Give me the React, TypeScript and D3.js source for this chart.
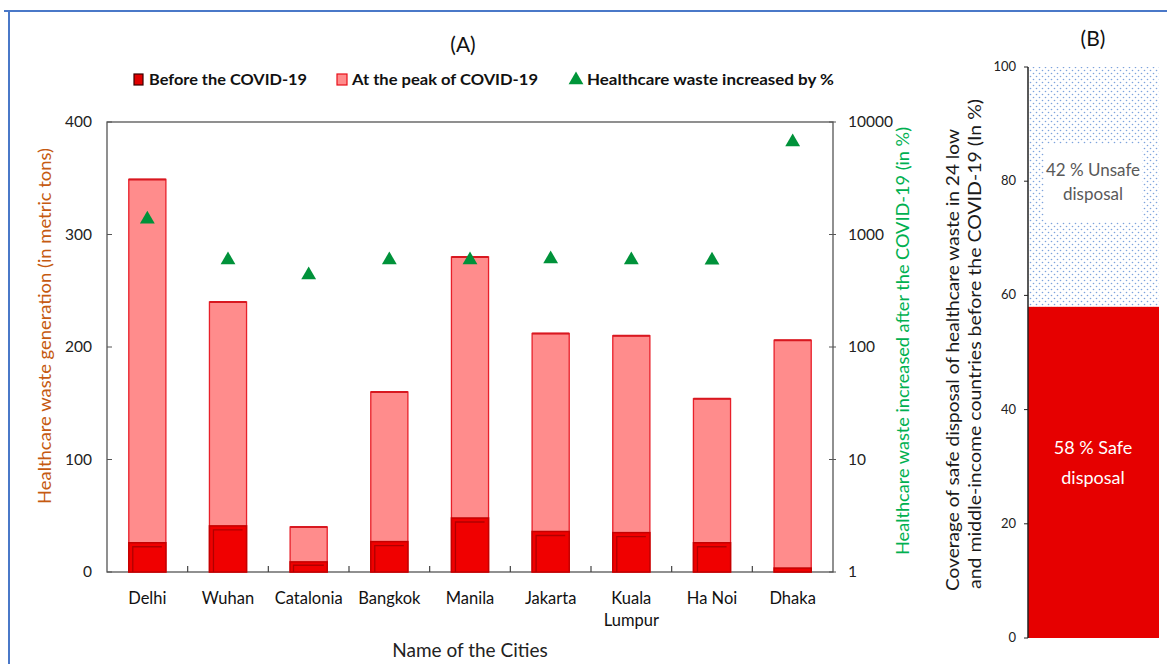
import React from "react";
import * as d3 from "d3";

const cities = ["Delhi", "Wuhan", "Catalonia", "Bangkok", "Manila", "Jakarta", "Kuala Lumpur", "Ha Noi", "Dhaka"];
const beforeCovid = [26, 41, 9, 27, 48, 36, 35, 26, 3.5];
const peakCovid = [349, 240, 40, 160, 280, 212, 210, 154, 206];
const increasePct = [1365, 593, 437, 593, 593, 605, 593, 590, 6640];
const leftTicks = [0, 100, 200, 300, 400];
const rightTicks = [1, 10, 100, 1000, 10000];
const bTicks = [0, 20, 40, 60, 80, 100];
const safeShare = [58];
const unsafeShare = [42];

const FONT = "Lato, 'Open Sans', sans-serif";

export default function App() {
  const W = 1167, H = 664;
  const L = 107, R = 833, T = 122, B = 572;
  const x = d3.scaleBand<string>().domain(cities).range([L, R]).paddingInner(0.54).paddingOuter(0.27);
  const y = d3.scaleLinear().domain([0, 400]).range([B, T]);
  const yLog = d3.scaleLog().domain([1, 10000]).range([B, T]);
  const step = x.step();

  const bL = 1028, bR = 1159, bT = 67, bB = 638;
  const yB = d3.scaleLinear().domain([0, 100]).range([bB, bT]);

  const tri = d3.symbol().type(d3.symbolTriangle).size(95)() as string;

  return (
    <svg width={W} height={H} style={{ position: "absolute", left: 0, top: 0, background: "#fff" }} fontFamily={FONT}>
      <defs>
        <pattern id="dots" width="6" height="6" patternUnits="userSpaceOnUse">
          <circle cx="1.5" cy="1.5" r="0.8" fill="#7ea3dc" />
          <circle cx="4.5" cy="4.5" r="0.8" fill="#7ea3dc" />
        </pattern>
      </defs>
      {/* outer frame */}
      <line x1={9} x2={9} y1={11} y2={H} stroke="#4a78c8" strokeWidth={2} />
      <line x1={4} x2={W} y1={11} y2={11} stroke="#4a78c8" strokeWidth={2} />

      {/* Panel A */}
      <text x={463} y={52} fontSize={21} textAnchor="middle" fill="#111">(A)</text>

      {/* legend */}
      <g fontSize={15} fontWeight={700} fill="#111">
        <rect x={134} y={74} width={9} height={11} fill="#e00000" stroke="#3a0000" strokeWidth={1.2} />
        <text x={149} y={85} textLength={158} lengthAdjust="spacingAndGlyphs">Before the COVID-19</text>
        <rect x={337} y={74} width={10} height={11} fill="#ff8c8c" stroke="#e8101a" strokeWidth={1.2} />
        <text x={352} y={85} textLength={186} lengthAdjust="spacingAndGlyphs">At the peak of COVID-19</text>
        <path d={tri} transform="translate(576,80)" fill="#00963a" />
        <text x={587} y={85} textLength={247} lengthAdjust="spacingAndGlyphs">Healthcare waste increased by %</text>
      </g>

      {/* plot frame */}
      <rect x={L} y={T} width={R - L} height={B - T} fill="none" stroke="#555" strokeWidth={1.3} />

      {/* left ticks */}
      {leftTicks.map((t) => (
        <g key={"l" + t}>
          <line x1={L} x2={L + 5} y1={y(t)} y2={y(t)} stroke="#555" />
          <text x={92} y={y(t) + 5} fontSize={15.5} textAnchor="end" fill="#222">{t}</text>
        </g>
      ))}
      {/* right ticks */}
      {rightTicks.map((t) => (
        <g key={"r" + t}>
          <line x1={R - 4} x2={R + 3} y1={yLog(t)} y2={yLog(t)} stroke="#555" />
          <text x={848} y={yLog(t) + 5} fontSize={15.5} textAnchor="start" fill="#222">{t}</text>
        </g>
      ))}
      {/* x ticks between categories */}
      {cities.slice(0, -1).map((c) => (
        <line key={"xt" + c} x1={(x(c) as number) + x.bandwidth() + (step - x.bandwidth()) / 2}
          x2={(x(c) as number) + x.bandwidth() + (step - x.bandwidth()) / 2}
          y1={B} y2={B - 6} stroke="#444" strokeWidth={1.2} />
      ))}

      {/* bars */}
      {cities.map((c, i) => {
        const bx = x(c) as number;
        const bw = x.bandwidth();
        const yp = y(peakCovid[i]);
        const yb = y(beforeCovid[i]);
        const hb = B - yb;
        const inset = Math.min(4, hb / 3);
        return (
          <g key={"bar" + c}>
            <rect x={bx} y={yp} width={bw} height={B - yp} fill="#ff8c8c" stroke="#e8202a" strokeWidth={1.3} />
            <line x1={bx} x2={bx + bw} y1={yp} y2={yp} stroke="#d81820" strokeWidth={2} />
            <rect x={bx} y={yb} width={bw} height={hb} fill="#f00000" stroke="#c40000" strokeWidth={1.5} />
            {hb > 6 && (
              <path d={`M${bx + inset},${B} V${yb + inset} H${bx + bw - inset}`} fill="none" stroke="#b00000" strokeWidth={1.3} />
            )}
          </g>
        );
      })}

      {/* triangles */}
      {cities.map((c, i) => (
        <path key={"tri" + c} d={tri}
          transform={`translate(${(x(c) as number) + x.bandwidth() / 2},${yLog(increasePct[i])})`}
          fill="#00923a" />
      ))}

      {/* x labels */}
      {cities.map((c) => {
        const cx = (x(c) as number) + x.bandwidth() / 2;
        const parts = c === "Kuala Lumpur" ? ["Kuala", "Lumpur"] : [c];
        return (
          <text key={"xl" + c} x={cx} y={604} fontSize={16.5} textAnchor="middle" fill="#111">
            {parts.map((p, k) => (
              <tspan key={k} x={cx} dy={k === 0 ? 0 : 22}>{p}</tspan>
            ))}
          </text>
        );
      })}
      <text x={470} y={657} fontSize={19} textAnchor="middle" fill="#222">Name of the Cities</text>

      {/* axis titles */}
      <text transform={`translate(51,326) rotate(-90)`} fontSize={17} textAnchor="middle" fill="#c55a11"
        textLength={356} lengthAdjust="spacingAndGlyphs">
        Healthcare waste generation (in metric tons)
      </text>
      <text transform={`translate(909,341) rotate(-90)`} fontSize={17} textAnchor="middle" fill="#00b050"
        textLength={428} lengthAdjust="spacingAndGlyphs">
        Healthcare waste increased  after the COVID-19 (in %)
      </text>

      {/* Panel B */}
      <text x={1093} y={46} fontSize={21} textAnchor="middle" fill="#111">(B)</text>
      <rect x={bL} y={yB(100)} width={bR - bL} height={yB(safeShare[0]) - yB(100)} fill="url(#dots)" />
      <rect x={bL} y={yB(safeShare[0])} width={bR - bL} height={bB - yB(safeShare[0])} fill="#e60000" />
      <rect x={1044} y={144} width={98} height={78} fill="#fff" />
      <text x={1093} y={176} fontSize={17} textAnchor="middle" fill="#595959">{unsafeShare[0]} % Unsafe</text>
      <text x={1093} y={200} fontSize={17} textAnchor="middle" fill="#595959">disposal</text>
      <text x={1093} y={454} fontSize={18} textAnchor="middle" fill="#fff">{safeShare[0]} % Safe</text>
      <text x={1093} y={484} fontSize={18} textAnchor="middle" fill="#fff">disposal</text>
      <line x1={bL} x2={bL} y1={bT} y2={bB} stroke="#222" strokeWidth={1.5} />
      {bTicks.map((t) => (
        <g key={"b" + t}>
          <line x1={bL - 4} x2={bL} y1={yB(t)} y2={yB(t)} stroke="#222" />
          <text x={1016} y={yB(t) + 4} fontSize={13} textAnchor="end" fill="#222">{t}</text>
        </g>
      ))}
      <text transform={`translate(959,360) rotate(-90)`} fontSize={17} textAnchor="middle" fill="#1a1a1a"
        textLength={462} lengthAdjust="spacingAndGlyphs">
        Coverage of safe disposal of healthcare waste in 24 low
      </text>
      <text transform={`translate(981,344) rotate(-90)`} fontSize={17} textAnchor="middle" fill="#1a1a1a"
        textLength={490} lengthAdjust="spacingAndGlyphs">
        and middle-income countries before the COVID-19  (In %)
      </text>
    </svg>
  );
}
